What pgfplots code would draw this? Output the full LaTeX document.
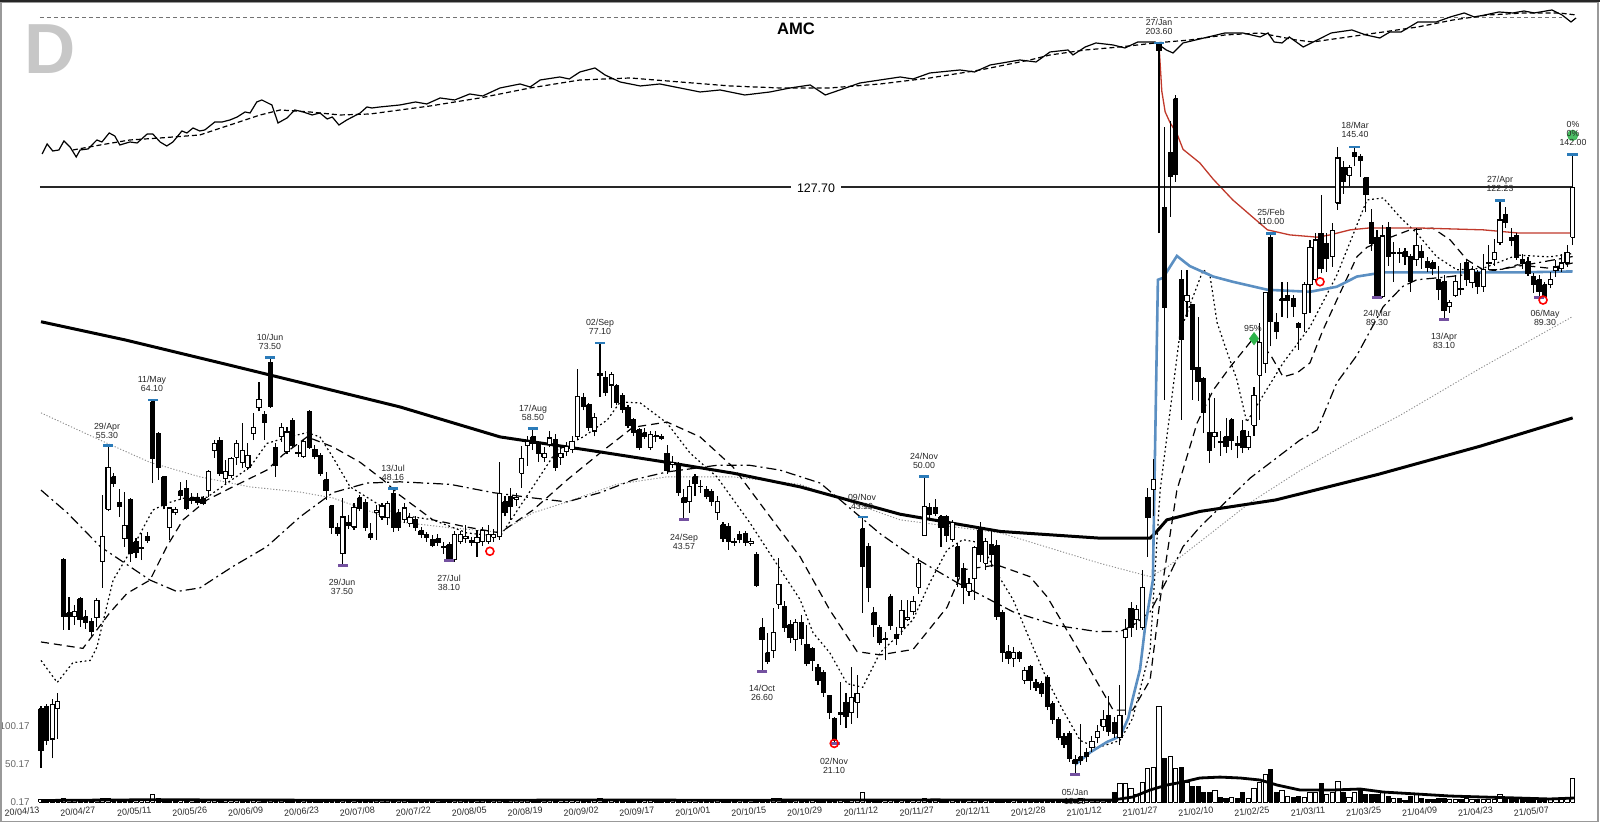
\documentclass[border=0pt]{standalone}
\usepackage{fontspec}
\setmainfont{Liberation Sans}
\usepackage{pgfplots}
\usepackage{pgfplotstable}
\pgfplotsset{compat=1.18}
\definecolor{hiblue}{HTML}{2B7BB9}
\definecolor{lopurple}{HTML}{7451A0}
\definecolor{vwapblue}{HTML}{5B8FC2}
\definecolor{avwapred}{HTML}{C0392B}
\definecolor{sigreen}{HTML}{2DB34A}

\pgfplotstableread{
i O H L C V
0 23.6 23.8 19.5 20.6 3
1 23.8 24.0 21.0 21.3 3
2 21.4 24.4 20.1 23.9 3
3 23.6 24.8 21.4 24.2 2
4 38.3 38.5 30.5 31.8 4
5 32.2 33.9 30.5 31.8 3
6 31.8 33.0 31.0 32.3 2
7 33.7 33.9 30.8 31.5 2
8 31.8 32.5 30.6 31.2 2
9 31.3 31.7 29.9 30.3 2
10 31.7 33.8 30.8 33.5 3
11 38.0 47.1 34.9 41.2 4
12 45.0 55.3 44.7 51.5 4
13 50.0 50.6 48.4 49.0 3
14 46.0 48.0 43.9 45.5 2
15 40.9 47.6 39.9 42.7 3
16 46.4 46.7 38.0 39.0 3
17 40.5 41.0 38.4 39.1 2
18 39.8 41.7 38.2 39.7 2
19 41.2 41.8 40.4 40.7 2
20 63.7 64.1 49.0 53.0 10.6
21 57.6 57.8 49.5 51.6 4
22 50.0 50.0 45.0 45.6 3
23 42.4 45.4 40.8 45.2 2
24 44.5 45.4 44.2 45.0 2
25 47.8 49.2 46.4 47.0 2
26 48.1 49.5 44.9 45.2 2
27 46.7 47.5 45.8 46.3 2
28 46.7 47.4 45.6 46.0 2
29 46.6 47.0 45.6 45.9 2
30 47.8 51.1 46.9 50.8 2
31 54.5 56.3 53.2 55.7 2
32 56.3 56.8 50.2 50.6 2
33 49.8 52.8 48.8 50.9 2
34 50.2 53.3 49.8 53.0 2
35 53.3 56.3 52.0 55.7 2
36 52.3 59.5 51.4 54.4 2
37 51.6 55.7 51.1 53.5 2
38 57.6 61.4 56.3 58.7 2
39 62.5 68.0 61.8 64.3 2.5
40 61.1 61.8 56.3 59.7 2
41 72.5 73.5 62.5 62.7 3
42 55.0 55.7 50.0 51.9 2.5
43 56.9 59.5 56.0 58.7 2
44 54.2 58.7 53.8 57.8 2
45 59.9 60.5 55.0 55.4 2
46 54.1 55.4 53.4 53.9 2
47 53.4 56.6 53.2 56.1 2
48 61.7 62.1 54.8 55.0 2
49 54.7 55.4 52.9 53.4 2
50 53.5 54.0 50.2 50.6 2
51 49.5 50.8 46.4 47.8 2
52 45.5 45.6 41.6 42.5 2
53 42.4 43.0 41.3 41.6 2
54 39.0 46.7 37.5 43.9 2
55 43.1 44.2 42.3 42.7 2
56 42.5 45.9 42.1 45.3 2
57 46.7 47.2 44.7 45.2 2
58 46.0 46.5 42.0 42.5 2
59 41.6 43.1 40.8 41.1 2
60 44.6 45.6 40.8 44.8 2
61 43.9 46.0 43.5 45.5 2
62 43.8 46.3 42.8 45.8 2
63 47.4 48.16 41.8 42.4 2
64 44.5 45.0 42.0 42.5 2
65 43.5 46.0 43.0 45.2 2
66 43.0 44.5 42.5 43.8 2
67 43.5 44.0 42.0 42.4 2
68 42.0 42.5 41.0 41.5 2
69 41.5 41.8 40.5 41.1 2
70 40.8 41.4 39.8 40.1 2
71 40.9 41.5 40.0 40.4 2
72 39.9 40.5 39.0 39.8 2
73 40.1 40.5 38.1 38.2 2
74 38.3 42.0 38.0 41.5 2
75 40.6 42.0 40.2 41.5 2
76 40.9 42.8 40.4 41.2 2
77 40.7 41.2 40.0 40.4 2
78 40.4 42.1 38.6 41.1 2
79 40.5 42.5 40.0 42.0 2
80 40.6 42.8 40.2 41.5 2
81 41.1 42.2 40.5 41.5 2
82 41.2 52.4 40.8 47.4 3.5
83 46.1 47.0 44.0 44.6 2
84 46.9 48.2 43.5 45.4 2
85 46.5 47.5 45.5 46.7 2
86 50.6 55.3 48.3 53.0 3
87 55.4 57.1 51.8 56.1 2
88 56.9 58.5 54.5 55.7 2
89 55.5 56.0 52.5 54.0 2
90 53.3 55.0 52.5 54.0 2
91 55.5 58.0 55.0 56.7 2
92 56.5 57.5 51.0 51.6 2
93 53.3 55.0 52.0 54.0 2
94 54.3 56.0 53.5 55.1 2
95 54.7 57.0 54.0 56.0 2
96 56.9 70.9 56.3 64.9 3
97 64.7 65.5 62.0 62.7 2
98 63.1 63.5 58.0 58.7 2
99 58.0 61.5 57.0 60.5 2
100 69.9 77.1 64.8 69.5 4
101 69.0 70.5 65.0 65.6 3
102 67.3 70.3 62.5 69.7 3
103 67.1 67.5 63.0 63.7 3
104 65.1 65.5 61.5 62.2 3
105 62.6 63.0 58.5 59.0 2.5
106 60.1 60.5 57.0 57.8 2
107 58.2 58.5 54.5 55.0 2
108 57.7 58.5 56.5 56.9 2
109 54.9 58.0 54.5 57.4 2
110 57.1 58.0 56.0 56.9 2
111 56.9 57.5 56.3 56.7 2
112 54.0 55.5 50.5 51.1 2
113 52.0 53.5 51.5 52.3 2
114 52.0 52.5 47.0 47.6 2
115 46.7 48.0 43.57 46.0 2
116 46.1 49.5 44.5 48.5 2
117 50.0 50.5 47.0 48.9 2
118 48.5 49.5 47.5 48.4 2
119 48.0 48.5 46.5 46.9 2
120 47.7 48.0 45.5 46.2 2
121 44.5 47.0 43.5 46.2 2
122 42.8 43.2 40.5 41.0 2
123 42.5 43.0 39.5 40.5 2
124 40.6 41.0 40.0 40.4 2
125 41.5 42.0 40.3 40.8 2
126 41.6 42.0 40.0 40.4 2
127 40.3 41.0 40.0 40.6 2
128 38.9 39.2 35.0 35.2 2
129 30.7 31.7 26.6 29.5 3
130 28.3 30.2 27.3 27.5 2
131 28.5 32.7 27.8 30.2 5
132 33.1 38.4 32.6 35.3 5
133 32.9 33.5 30.3 30.7 2
134 31.0 31.5 29.2 29.7 2
135 29.5 31.6 28.5 31.2 2
136 31.2 32.0 29.0 29.6 2
137 29.1 31.0 27.1 27.3 2
138 28.7 28.8 26.7 27.6 2
139 27.0 27.3 25.5 25.9 2
140 26.5 26.8 24.5 24.9 2
141 24.6 24.7 22.8 23.3 2
142 22.9 23.0 21.1 21.3 2
143 23.3 25.7 22.4 23.2 2
144 24.1 24.8 22.2 23.0 2
145 23.3 27.0 22.5 24.5 2
146 24.1 26.3 22.9 24.8 2
147 42.3 43.9 32.2 37.4 13
148 39.9 40.4 33.3 35.0 3
149 32.2 32.8 29.8 31.0 2
150 30.7 31.0 29.0 29.3 2
151 29.6 30.3 27.6 29.5 2
152 33.9 34.2 30.5 30.9 3
153 30.0 30.8 29.0 29.6 2
154 30.7 33.6 30.0 32.4 2
155 31.5 33.6 31.4 31.7 2
156 32.3 34.0 32.0 33.4 2
157 35.0 38.4 34.2 37.8 2
158 41.3 50.0 41.3 45.4 4
159 45.3 46.0 43.8 44.3 2
160 45.2 46.5 44.0 44.4 2
161 43.9 44.2 39.9 42.5 2
162 43.9 44.2 40.5 41.4 2
163 40.8 43.5 40.5 43.1 2
164 39.9 40.3 35.0 36.2 3
165 37.2 37.8 33.1 35.0 2
166 34.5 36.0 34.0 35.4 2
167 36.0 40.0 33.6 39.8 2
168 42.1 43.2 38.0 38.9 2
169 37.8 41.0 37.0 40.5 2
170 40.1 42.1 37.4 38.9 2
171 40.0 40.8 31.5 31.8 3
172 32.2 32.5 27.5 28.3 2
173 28.4 29.0 27.3 27.8 2
174 27.8 28.8 27.0 28.3 2
175 28.3 28.5 27.5 27.8 2
176 25.9 27.0 25.6 26.7 2
177 27.1 27.2 25.1 25.9 2
178 25.7 26.0 25.0 25.3 2
179 25.6 25.8 24.5 24.8 2
180 26.1 26.3 23.5 23.8 2
181 24.0 24.2 22.5 22.8 2
182 22.8 23.0 21.3 21.5 2
183 21.6 21.8 20.8 21.0 2
184 21.8 22.0 19.9 20.1 2
185 20.0 20.3 19.1 19.8 2
186 20.2 22.5 19.7 20.0 4
187 20.5 20.8 19.9 20.2 3
188 20.8 21.6 20.5 21.2 3
189 21.5 22.4 21.1 21.9 3
190 22.3 23.5 22.0 22.8 3
191 23.1 24.6 21.6 21.9 3
192 22.6 23.0 21.5 21.8 13
193 21.5 25.5 21.0 23.1 24
194 29.7 31.6 23.1 30.5 24
195 32.7 33.3 29.8 30.7 18.5
196 31.5 33.0 30.5 32.5 10
197 30.7 37.0 30.5 35.0 26.5
198 46.8 48.3 38.6 43.9 45
199 48.0 53.0 44.0 49.6 46
200 203.0 203.6 110.0 199.0 126
201 119.7 154.9 64.2 86.6 58
202 143.0 158.0 116.0 132.0 60
203 170.0 172.0 130.0 133.0 44
204 94.6 97.7 60.1 77.9 46
205 88.3 97.7 84.0 89.8 26
206 87.2 87.5 64.2 70.7 20
207 71.3 84.0 64.0 68.0 20
208 68.8 69.0 57.6 61.6 12
209 57.7 65.5 52.3 54.5 12
210 56.9 64.6 54.9 57.7 14.6
211 56.1 58.0 53.5 55.9 6.6
212 56.9 60.4 54.0 55.1 5.3
213 60.1 60.5 54.5 56.3 6.6
214 55.7 57.1 53.1 55.3 4
215 58.0 60.0 54.0 55.0 12
216 55.0 58.0 54.5 56.9 5.3
217 59.1 66.8 57.1 65.1 18.5
218 69.5 82.3 60.1 77.2 26.5
219 72.2 91.0 70.0 90.7 37
220 108.6 110.0 76.3 82.6 43.7
221 82.3 85.0 78.0 80.0 13.2
222 89.0 94.0 84.0 88.6 14.6
223 89.9 94.0 83.5 88.6 7.9
224 89.0 90.0 84.0 86.7 6.6
225 82.2 82.5 75.4 81.0 7.9
226 84.8 94.0 80.0 93.1 6.6
227 93.1 107.6 85.0 104.9 12
228 94.6 110.0 94.0 107.6 12
229 110.0 124.5 96.6 98.2 25
230 106.4 110.0 97.0 101.5 10.6
231 101.9 113.7 98.7 111.0 12
232 121.3 145.6 118.6 140.3 27.8
233 136.0 139.0 125.0 129.9 12
234 132.6 137.0 128.0 136.0 6.6
235 143.0 145.4 136.7 140.8 12
236 141.2 142.0 132.0 139.0 15.9
237 131.6 132.0 117.8 124.5 9.3
238 114.0 119.0 104.0 106.5 9.3
239 108.6 111.0 89.3 89.6 9.3
240 89.6 113.0 89.3 109.0 12
241 112.2 114.0 99.0 101.9 7.9
242 103.0 106.9 94.0 103.4 4
243 103.4 105.0 100.0 103.0 4
244 103.6 105.0 99.2 101.9 2.6
245 101.9 103.0 91.0 94.0 7.9
246 100.9 112.0 99.0 105.8 9.3
247 103.7 106.0 98.0 101.6 4
248 100.3 102.0 97.0 98.6 3.5
249 99.9 101.0 96.0 98.2 3.5
250 94.6 99.0 88.6 91.6 4
251 94.0 96.0 83.1 85.8 5
252 86.7 88.6 85.0 88.0 3.5
253 90.0 96.2 89.4 94.0 3.5
254 92.0 100.0 90.0 91.6 3
255 99.9 101.0 92.7 94.6 4
256 93.7 99.0 92.0 97.7 3.5
257 97.0 97.7 90.5 92.5 3
258 92.5 103.0 91.0 97.7 3
259 99.6 105.8 97.7 99.9 3
260 100.9 108.0 99.0 103.4 3.5
261 106.6 122.23 106.0 114.8 9.3
262 116.7 119.7 111.8 114.0 4
263 108.6 112.0 105.4 107.6 3
264 109.3 110.0 100.9 101.6 3.5
265 100.9 103.0 98.0 99.9 3
266 100.3 102.0 95.8 96.6 3
267 95.5 96.8 90.7 93.1 3
268 94.6 96.0 89.3 91.0 3.5
269 93.1 94.0 89.5 89.6 3
270 93.1 97.0 92.0 94.6 3
271 97.4 100.9 95.5 98.6 3
272 98.2 103.0 97.0 99.9 4
273 99.9 105.8 98.6 103.4 4
274 108.6 142.0 105.8 127.7 30.5
}\ohlc

% build candle and volume paths from the table
\pgfplotstablegetrowsof{\ohlc}
\pgfmathtruncatemacro{\lastrow}{\pgfplotsretval-1}
\gdef\wicks{}\gdef\wbody{}\gdef\bbody{}\gdef\wvol{}\gdef\bvol{}\gdef\prevC{0}
\foreach \r in {0,...,\lastrow}{%
  \pgfplotstablegetelem{\r}{i}\of\ohlc\let\ci\pgfplotsretval
  \pgfplotstablegetelem{\r}{O}\of\ohlc\let\cO\pgfplotsretval
  \pgfplotstablegetelem{\r}{H}\of\ohlc\let\cH\pgfplotsretval
  \pgfplotstablegetelem{\r}{L}\of\ohlc\let\cL\pgfplotsretval
  \pgfplotstablegetelem{\r}{C}\of\ohlc\let\cC\pgfplotsretval
  \pgfplotstablegetelem{\r}{V}\of\ohlc\let\cV\pgfplotsretval
  \pgfmathsetmacro{\xa}{\ci-0.38}%
  \pgfmathsetmacro{\xb}{\ci+0.38}%
  \xdef\wicks{\wicks (\ci,\cL) (\ci,\cH) (\ci,nan)}%
  \ifdim\cC pt<\cO pt
    \xdef\bbody{\bbody (\xa,\cO) (\xb,\cO) (\xb,\cC) (\xa,\cC) (\xa,\cO) (\ci,nan)}%
  \else
    \xdef\wbody{\wbody (\xa,\cO) (\xb,\cO) (\xb,\cC) (\xa,\cC) (\xa,\cO) (\ci,nan)}%
  \fi
  \ifdim\cC pt<\prevC pt
    \xdef\bvol{\bvol (\xa,0) (\xb,0) (\xb,\cV) (\xa,\cV) (\xa,0) (\ci,nan)}%
  \else
    \xdef\wvol{\wvol (\xa,0) (\xb,0) (\xb,\cV) (\xa,\cV) (\xa,0) (\ci,nan)}%
  \fi
  \xdef\prevC{\cC}%
}

\pgfplotsset{
  base/.style={scale only axis, width=800pt, height=411.5pt, at={(0pt,0pt)}, anchor=south west,
    xmin=-7.335, xmax=278.89, unbounded coords=jump},
  hibar/.style={only marks, mark=-, mark size=2.6pt, mark options={line width=1.4pt, draw=hiblue}},
  lobar/.style={only marks, mark=-, mark size=2.6pt, mark options={line width=1.4pt, draw=lopurple}},
}
\tikzset{lbl/.style={font=\fontsize{4.4}{4.6}\selectfont, text=black!85, inner sep=0pt, align=center}}

\begin{document}
\begin{tikzpicture}
\useasboundingbox (0,0) rectangle (800pt,411.5pt);

% ---------- relative strength panel ----------
\begin{axis}[base, hide axis, ymin=-623, ymax=200]
\addplot[black!55, line width=0.5pt, dash pattern=on 2pt off 1.5pt] coordinates {(-0.2,182) (272,182)};
\addplot[black, line width=0.6pt, dash pattern=on 2.5pt off 1.5pt] coordinates {
(5.7,50) (10.6,55) (15.9,60) (21.3,62) (28.4,65) (33.8,75) (39.2,85) (42.8,90) (48.1,88) (53.5,85) (58.9,86) (64.2,90) (69.6,94) (78.5,102) (87.5,112) (96.4,120) (105.4,122) (114.3,118) (123.3,114) (132.2,112) (141.1,112) (150.1,116) (159,122) (168,130) (176.9,140) (180.5,145) (186.8,150) (193,153) (199.3,157) (205.5,160) (211.8,165) (218.1,167) (224.5,160) (227.5,158) (233.8,163) (240.1,168) (246.3,173) (252.6,180) (258.9,185) (265.3,187) (271.6,187) (274.6,185)};
\addplot[black, line width=0.6pt] coordinates {
(0.2,46) (1.1,56) (2.1,49) (3.2,50) (4.1,59) (5.2,53) (6.3,43) (7,50) (8.4,51) (10,60) (10.9,58) (12.2,67) (13.2,64) (14.1,55) (15.9,58) (17.2,57) (19,66) (20,66) (21.3,58) (22.5,54) (23.6,58) (25.2,69) (26.1,67) (27.2,72) (28.4,69) (29.3,70) (31.1,78) (32.4,78) (33.8,80) (35.1,83) (36.5,88) (37.4,87) (38.6,98) (39.5,100) (41.3,95) (42.4,77) (44,82) (45.4,90) (46.9,88) (48.5,85) (49.9,87) (51.2,81) (52.1,83) (53.3,75) (54.7,80) (57.1,87) (58.3,93) (59.2,92) (60.6,93) (62.4,94) (64.2,95) (67,98) (69,96) (71.4,102) (74,100) (76.7,106) (79,104) (82.1,112) (85.7,116) (87.5,113) (89.3,120) (92.8,123) (94.5,121) (96.4,128) (99.1,132) (100.9,125) (103.6,118) (107.2,114) (110.7,116) (114.3,112) (117.9,108) (121.5,110) (125.9,105) (130.4,108) (134,112) (137.6,115) (140.3,105) (142.9,110) (146.5,117) (150.1,120) (153.7,123) (156,121) (159,127) (164.4,130) (167,128) (169.8,135) (175.1,140) (178,138) (180.5,148) (183.7,150) (184.6,145) (186.8,153) (188.7,157) (191.8,155) (193.9,152) (196.2,158) (199.3,158) (201.3,150) (202.5,147) (204.3,157) (208.8,163) (211.8,167) (215,167) (218.1,163) (219.5,167) (220.6,158) (222,157) (223.3,163) (225.8,153) (228.3,160) (230.8,167) (234.5,170) (237,165) (239.5,162) (241.3,168) (243.3,168) (246.3,178) (249.6,178) (252.1,183) (254.6,187) (256.4,183) (258.3,185) (260.8,188) (263.3,187) (265.3,189) (267.1,187) (270.3,190) (272.1,185) (273.7,178) (274.6,182)};
\end{axis}

% ---------- price panel ----------
\begin{axis}[base, hide axis, ymode=log, ymin=16.31, ymax=234.0]
% 150-day (thin grey dotted)
\addplot[black!45, line width=0.45pt, dash pattern=on 0.6pt off 0.9pt] coordinates {
(0,61.5) (10.6,56.3) (19.5,52.4) (28.4,50.0) (37.4,48.4) (46.3,47.6) (52.2,46.7) (64.2,43.2) (73.2,42.4) (82.1,41.8) (88,44.5) (94.1,46.1) (103,48.8) (112,50.0) (123.8,50.0) (135.8,48.8) (153.7,43.5) (171.6,41.7) (189.4,37.8) (198.4,36.2) (201.4,37.3) (207.3,40.5) (216.3,46.0) (225.2,51.0) (234.2,56.0) (243.1,61.0) (257.4,71.0) (274,84.0)};
% 200-day (thick)
\addplot[black, line width=1.5pt] coordinates {
(0,82.6) (15,77.9) (22.5,75.4) (34.3,71.6) (46.3,67.9) (64.2,62.7) (82.1,56.9) (100,54.2) (112,52.4) (123.8,50.6) (135.8,48.4) (153.7,44.3) (171.6,41.9) (189.4,41.0) (198.4,41.0) (199.6,41.9) (201.4,43.5) (207.3,44.7) (220.9,46.4) (239.2,50.4) (257.4,55.2) (274,60.5)};
% 50-day (dash dot)
\addplot[black, line width=0.6pt, dash pattern=on 5pt off 2pt on 1pt off 2pt] coordinates {
(0,47.9) (4.7,44.5) (10.6,39.9) (19.5,35.8) (24.3,34.5) (28.4,34.9) (34.3,37.4) (40.4,39.9) (46.3,43.9) (52.2,47.5) (58.3,49.0) (64.2,49.2) (73.2,48.8) (80.9,47.5) (88,46.7) (94.1,46.1) (100,47.5) (105.9,49.5) (112,50.8) (120.9,51.9) (126.8,51.9) (132.2,51.1) (139.4,49.0) (150.1,41.6) (156,38.6) (163.9,35.5) (173.9,32.3) (181.8,30.9) (188.9,30.3) (193,30.3) (195.3,30.9) (198.4,32.3) (201.4,35.8) (204.3,39.9) (207.3,42.5) (216.3,49.8) (225.2,56.3) (228.3,58.2) (231.8,67.8) (235.4,74.1) (240.1,86.7) (243.6,92.6) (246.1,94.6) (252.1,95.6) (258,96.9) (264.1,98.8) (274,102)};
% 20-day (dashed)
\addplot[black, line width=0.6pt, dash pattern=on 4pt off 2.5pt] coordinates {
(0,29.3) (7.5,28.7) (12.3,32.2) (15.4,34.3) (19.5,35.8) (22.5,39.9) (25.4,43.5) (29.7,46.4) (34.3,48.4) (40.4,51.1) (43.3,53.7) (47.6,56.9) (52.2,55.1) (57.1,52.4) (61.2,49.5) (64.2,47.1) (70.1,43.5) (76.2,42.5) (82.1,41.7) (88,44.9) (94.1,49.5) (100,54.0) (105.9,58.7) (112,59.7) (117.9,56.9) (123.8,51.6) (129.9,44.5) (135.8,38.6) (141.1,32.5) (146,28.4) (150.1,28.1) (156,28.6) (162.1,32.8) (164.9,37.0) (171,37.6) (176.9,36.2) (180,33.9) (185.9,28.3) (191.8,23.5) (195.3,23.5) (198.4,25.9) (200.2,33.6) (203.2,47.9) (206.8,59.5) (209.7,66.2) (212.7,71.3) (217,78.5) (219.9,74.3) (222.2,69.1) (224.7,70.0) (227,72.3) (229.3,80.3) (231.8,88.6) (235.4,101.9) (237.2,105.1) (240.1,107.6) (244.9,111.2) (249,111.8) (252.1,107.6) (255.1,100.9) (258,97.7) (261,97.7) (264.1,99.3) (269.9,98.2) (274,99.9)};
% 10-day (dotted)
\addplot[black, line width=0.6pt, dash pattern=on 0.9pt off 1.4pt] coordinates {
(0,27.6) (2.9,25.7) (5.7,27.4) (8.8,27.6) (10,28.8) (12.9,35.8) (16.5,39.9) (20,44.9) (22.5,45.9) (26.1,46.8) (29.7,46.8) (33.3,49.0) (37.4,51.6) (40.4,55.7) (43.3,56.6) (47.6,57.7) (49.9,56.9) (52.2,53.3) (55.3,48.4) (58.3,46.8) (61.2,45.3) (64.2,44.2) (70.1,43.5) (76.2,41.7) (82.1,41.2) (88,48.4) (92.3,54.5) (97,56.9) (101.3,60.1) (103.6,63.7) (107.2,63.5) (112,59.5) (116.1,54.0) (120.9,50.0) (126.8,43.1) (132.7,36.6) (135.8,33.6) (138.1,30.2) (141.1,28.3) (144.2,25.6) (147,25.3) (150.1,28.3) (153.1,29.8) (156,31.5) (159,35.5) (162.1,39.5) (164.9,40.8) (168,40.4) (171,36.6) (173.9,33.6) (176.9,29.5) (180,25.9) (182.8,23.5) (185.9,21.3) (188.9,20.8) (193,21.3) (195.3,22.9) (198.4,28.5) (200.2,47.9) (203.8,80.2) (207.9,97.7) (209.1,96.1) (210.4,82.3) (212.2,74.8) (213.9,68.6) (215.7,59.7) (218.1,64.1) (222.2,72.3) (227,81.2) (231.8,96.0) (237.2,122.5) (240.1,123.3) (243.1,115.9) (246.1,110.0) (249.7,101.9) (253.3,97.7) (258,98.2) (264.1,102.5) (269.9,101.9) (274,103.0)};
% anchored VWAP from the 27/Jan high (red)
\addplot[avwapred, line width=0.65pt] coordinates {
(200,202.3) (200.5,174.2) (201.1,162.9) (202,157.2) (203.2,151.9) (204.3,144.3) (207.3,138.1) (209.7,131.0) (213.2,122.5) (216.3,116.7) (219.4,111.2) (223.4,109.4) (228.3,108.6) (230.6,109.4) (234.2,111.2) (237.7,111.9) (246.1,111.9) (258,111.2) (264.1,110.1) (274,110.1)};
% anchored VWAP from the 05/Jan low (blue)
\addplot[vwapblue, line width=1.3pt] coordinates {
(185,19.7) (187.7,20.5) (190.7,21.2) (192.5,21.5) (193.4,21.9) (194.5,22.9) (195.3,24.4) (196.6,26.8) (197.5,30.7) (198.9,35.8) (199.8,94.6) (200.7,95.2) (203.2,102.2) (205.5,98.9) (209.7,95.6) (213.2,94.0) (219.4,91.6) (227,91.0) (231.8,92.5) (235.4,95.6) (240.1,96.9) (252.1,96.9) (264.1,96.9) (274,97.2)};
% last close line
\addplot[black!85, line width=0.9pt] coordinates {(-0.2,127.7) (274,127.7)};
% candles
\edef\tmp{\noexpand\addplot[black, line width=0.55pt] coordinates {\wicks};}\tmp
\edef\tmp{\noexpand\addplot[draw=black, fill=white, line width=0.55pt] coordinates {\wbody};}\tmp
\edef\tmp{\noexpand\addplot[draw=black, fill=black, line width=0.55pt] coordinates {\bbody};}\tmp
% high / low markers
\addplot[hibar] coordinates {(12,55.3) (20,64.1) (41,73.5) (63,48.16) (88,58.5) (100,77.1) (147,43.9) (158,50.0) (200,203.6) (220,110.0) (235,145.4) (261,122.23) (274,142.0)};
\addplot[lobar] coordinates {(54,37.5) (73,38.1) (115,43.57) (129,26.6) (142,21.1) (185,19.1) (239,89.3) (251,83.1) (268,89.3)};
% signals
\addplot[only marks, mark=o, mark size=2pt, mark options={draw=red, line width=0.8pt}] coordinates {(80.3,39.3) (141.9,21.1) (228.8,94.0) (268.7,88.6)};
\addplot[only marks, mark=diamond*, mark size=3pt, mark options={draw=sigreen, fill=sigreen}] coordinates {(217,78.2)};
\addplot[only marks, mark=*, mark size=2.6pt, mark options={draw=sigreen, fill=sigreen, opacity=0.85}] coordinates {(274,151.0)};
\end{axis}

% ---------- texts (pixel coordinates) ----------
\begin{scope}[x=0.5pt, y=-0.5pt, yshift=411.5pt]
\node[anchor=base west, inner sep=0pt, font=\fontsize{35.5}{36}\selectfont\bfseries, text=black!22] at (24,74) {D};
\node[inner sep=0pt, font=\fontsize{8.3}{9}\selectfont\bfseries] at (796,29) {AMC};
\node[fill=white, inner xsep=3pt, inner ysep=0.5pt, font=\fontsize{6.2}{7}\selectfont] at (816,188) {127.70};
\node[lbl] at (107,431) {29/Apr\\55.30};
\node[lbl] at (152,384) {11/May\\64.10};
\node[lbl] at (270,341.5) {10/Jun\\73.50};
\node[lbl] at (342,586.5) {29/Jun\\37.50};
\node[lbl] at (393,473) {13/Jul\\48.16};
\node[lbl] at (449,582.5) {27/Jul\\38.10};
\node[lbl] at (533,412.5) {17/Aug\\58.50};
\node[lbl] at (600,327) {02/Sep\\77.10};
\node[lbl] at (684,541.5) {24/Sep\\43.57};
\node[lbl] at (762,693) {14/Oct\\26.60};
\node[lbl] at (834,765.5) {02/Nov\\21.10};
\node[lbl] at (862,501.5) {09/Nov\\43.90};
\node[lbl] at (924,460.5) {24/Nov\\50.00};
\node[lbl] at (1075,796.5) {05/Jan\\19.10};
\node[lbl] at (1159,26.5) {27/Jan\\203.60};
\node[lbl] at (1271,216.5) {25/Feb\\110.00};
\node[lbl] at (1355,129.5) {18/Mar\\145.40};
\node[lbl] at (1377,317.5) {24/Mar\\89.30};
\node[lbl] at (1444,340.5) {13/Apr\\83.10};
\node[lbl] at (1500,183.5) {27/Apr\\122.23};
\node[lbl] at (1545,317.5) {06/May\\89.30};
\node[lbl] at (1573,133.5) {0\%\\0\%\\142.00};
\node[lbl] at (1253,328) {95\%};
\end{scope}

% ---------- volume panel ----------
\begin{axis}[base, ymin=-27.8, ymax=1062.3,
  axis line style={draw=none}, major tick length=0pt,
  xtick={0,10,...,270},
  xticklabels={20/04/13,20/04/27,20/05/11,20/05/26,20/06/09,20/06/23,20/07/08,20/07/22,20/08/05,20/08/19,20/09/02,20/09/17,20/10/01,20/10/15,20/10/29,20/11/12,20/11/27,20/12/11,20/12/28,21/01/12,21/01/27,21/02/10,21/02/25,21/03/11,21/03/25,21/04/09,21/04/23,21/05/07},
  xticklabel style={font=\fontsize{4.5}{5}\selectfont, text=black!85, anchor=base east, inner sep=0pt, rotate=5, yshift=5pt},
  ytick={0.17,50.17,100.17}, yticklabels={0.17,50.17,100.17},
  yticklabel style={font=\fontsize{4.9}{5}\selectfont, text=black!60, anchor=east, inner sep=0pt, xshift=15pt}]
\edef\tmp{\noexpand\addplot[draw=black, fill=white, line width=0.5pt] coordinates {\wvol};}\tmp
\edef\tmp{\noexpand\addplot[draw=black, fill=black, line width=0.5pt] coordinates {\bvol};}\tmp
\addplot[black, line width=1.4pt] coordinates {
(0,2) (20,3) (40,2.5) (80,2.2) (100,2.8) (120,2.3) (140,2.6) (160,2.8) (190,2.5) (191.6,2.5) (195.3,6.6) (198.4,15.9) (201.4,22.5) (204.3,26.5) (207.3,31.8) (210.9,33) (214.5,31.8) (218.1,29.1) (219.3,26.5) (221.1,22.5) (225.2,15.9) (231.1,15.9) (236,17.2) (240.1,13.2) (246.1,10.6) (252.1,7.9) (258,6.6) (264.1,5.3) (269.9,4) (274.4,5.3)};
\end{axis}

% frame
\begin{scope}[x=0.5pt, y=-0.5pt, yshift=411.5pt]
\draw[black!40, line width=0.7pt] (1,2) rectangle (1598,821.5);
\draw[black!85, line width=1pt] (0,1.5) -- (1600,1.5);
\end{scope}
\end{tikzpicture}
\end{document}
